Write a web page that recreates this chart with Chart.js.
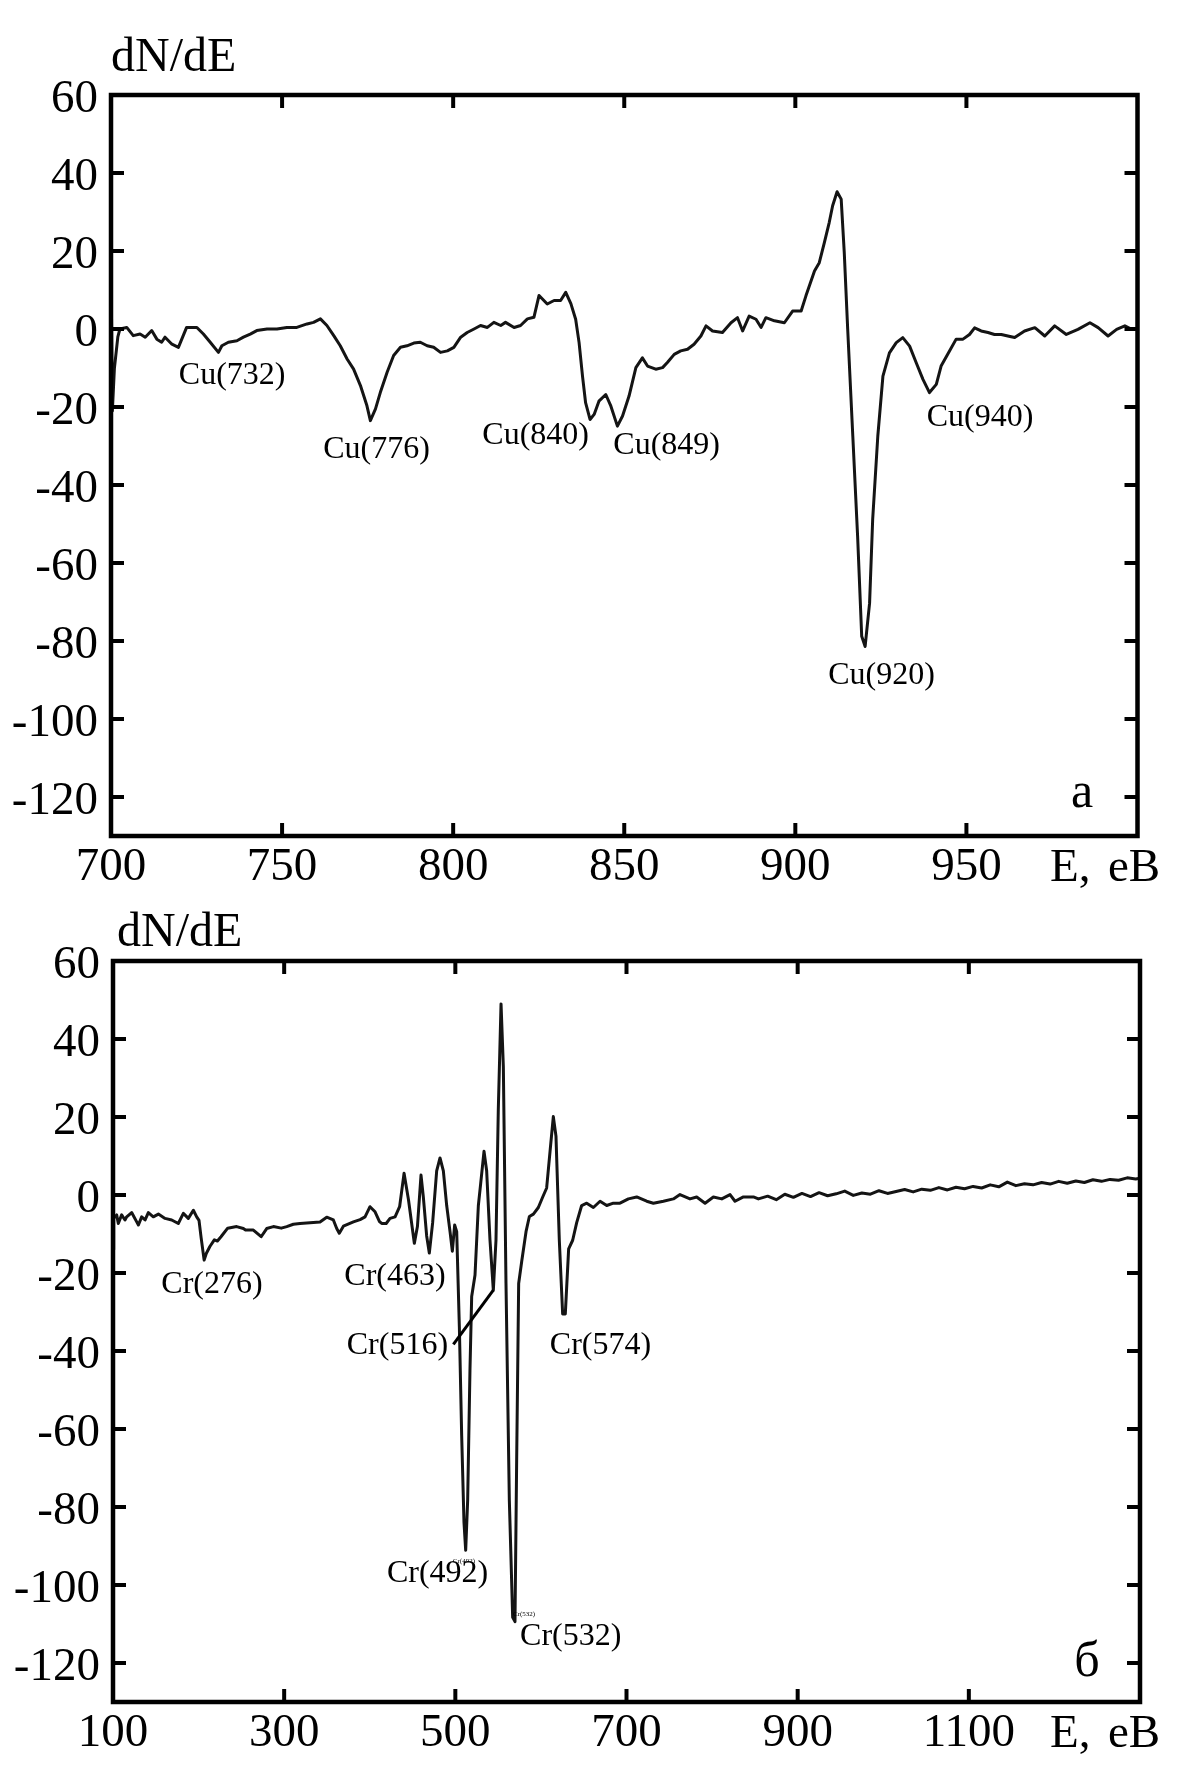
<!DOCTYPE html>
<html><head><meta charset="utf-8">
<script src="https://cdn.jsdelivr.net/npm/chart.js@4.4.1/dist/chart.umd.min.js"></script>
<style>
html,body{margin:0;padding:0;background:#fff;}
#wrap{position:relative;width:1179px;height:1772px;overflow:hidden;background:#fff;}
canvas{position:absolute;left:0;}
</style></head><body>
<div id="wrap">
<canvas id="c1" width="1179" height="900" style="top:0px"></canvas>
<canvas id="c2" width="1179" height="872" style="top:900px"></canvas>
</div>
<script>
// ---------- Panel (a): Cu ----------
const topE = [700,700.4,701,702,702.6,704.6,706.5,708.5,710,711.9,713.4,714.8,715.8,717.8,719.7,722.1,725.1,727,729,731.4,732.4,734.3,736.8,738.7,740.7,742.6,745.6,748.5,751.4,754.3,757.3,759.2,761.2,763.1,765.1,767,769,770.9,772.9,774.8,775.8,777.3,778.7,780.7,782.6,784.6,786.5,788.5,790.4,792.4,794.3,796.3,798.3,800.2,802.2,804.1,806.1,808,810,811.9,813.9,815.3,817.8,819.7,821.7,823.6,825.1,827.5,829.5,831.4,832.9,834.4,835.8,836.8,837.8,838.7,840,841.2,842.6,844.6,846.1,848,849.5,851.4,853.4,855.3,856.8,859.2,861.2,862.6,864.6,866.5,868.5,870.4,872.4,873.9,875.8,878.7,881.2,883.1,884.6,886.5,888.5,890,891.4,893.9,896.8,899.2,901.7,903.1,905.6,907,908.5,909.9,910.9,912.2,913.4,914.3,915.3,916.8,918.2,919.4,920.4,921.7,922.6,924.1,925.6,927.5,929.5,931.4,933.4,935.3,937.3,939.2,941.2,942.6,945.1,947,949,950.9,952.4,954.3,956.3,958.2,960.2,962.1,964.1,967,970,972.9,975.8,979.2,982.6,986.1,988.5,991.4,993.9,996.3,998.3,1000];
const topN = [18,-21,-10,-2,0,0.4,-1.7,-1.3,-2.1,-0.4,-2.6,-3.4,-2.1,-3.9,-4.7,0.4,0.4,-1.3,-3.4,-6,-4.3,-3.4,-3,-2.1,-1.3,-0.4,0,0,0.4,0.4,1.3,1.7,2.6,0.9,-1.7,-4.3,-7.7,-10.3,-14.5,-19.7,-23.5,-20.5,-16.3,-11.1,-6.8,-4.7,-4.3,-3.6,-3.4,-4.3,-4.7,-6,-5.6,-4.7,-2.1,-0.9,0,0.9,0.4,1.7,0.9,1.7,0.4,0.9,2.6,3,8.6,6.4,7.3,7.3,9.4,6.5,2.5,-3.5,-12.1,-18.9,-23.2,-21.9,-18.5,-16.8,-19.8,-24.9,-22.3,-17.2,-9.9,-7.4,-9.5,-10.3,-9.9,-8.6,-6.5,-5.6,-5.2,-3.9,-1.8,0.8,-0.5,-0.9,1.6,2.9,-0.5,3.3,2.5,0.4,2.9,2.1,1.6,4.6,4.6,8.5,14.9,17,22.2,27.3,31.6,35.2,33.3,19.6,0,-27.5,-53.1,-78.8,-81.4,-70.3,-48.9,-27.5,-12.1,-6.1,-3.5,-2.2,-4.4,-8.6,-12.9,-16.3,-14.2,-9.5,-5.6,-2.6,-2.6,-1.4,0.3,-0.5,-0.9,-1.4,-1.4,-1.8,-2.2,-0.5,0.35,-1.8,0.8,-1.4,-0.1,1.6,0.35,-1.8,-0.1,0.8,-0.1,0.2];
const topXTicks = [700,750,800,850,900,950,1000];
const topLabels = [["Cu(732)",735.4,-12.0],["Cu(776)",777.6,-30.8],["Cu(840)",824.1,-27.4],["Cu(849)",862.4,-29.9],["Cu(920)",925.2,-88.8],["Cu(940)",954.0,-22.6]];

// ---------- Panel (б): Cr ----------
const botE = [100,100.8,104.3,106.2,110.1,114,116,121.8,127.7,129.7,133.5,137.5,141.3,147.1,153,160.8,168.6,176.3,182.2,188,193.9,197.8,200.5,203,206.5,209,213.2,218.4,222,226.2,234,244.5,252.3,254.9,264,273.1,279.6,287.4,296.6,303,310.7,318.5,330.2,341.9,349.7,357.5,361.4,364.4,369.2,380.9,388.7,394.5,400.3,406.2,411.4,414,419.2,423.7,429.6,434.9,440.1,445.3,452.1,455.7,459.9,462.6,466.5,469.6,473.5,478.2,482.1,486,489.9,493.8,496.5,499.2,501.6,504.7,507.4,510.1,512.1,514.4,517.1,519.1,523,526.9,529.6,533.5,536.6,540.5,544.4,547.5,550.2,553.4,556.1,559.2,563.1,567,569.7,571.7,574,577.5,582.6,586.5,591.2,597,602.1,606.7,611.4,614.5,617.6,621.5,625.4,628.5,632.4,637.1,641.8,647.6,653.5,661.3,669.1,676.9,684.6,692.4,702.2,711.9,723.6,731.4,743.1,754.8,762.5,774.2,782,791.8,801.5,811.3,821,826.8,836.6,848.3,854.1,865,875,885,895,905,915,925,935,945,955,965,975,985,995,1005,1015,1025,1035,1045,1055,1065,1075,1085,1095,1105,1115,1125,1135,1145,1155,1165,1175,1185,1195,1205,1215,1225,1235,1245,1255,1265,1275,1285,1295,1300];
const botN = [-14,-6,-5.1,-7.3,-5.1,-6.4,-5.6,-4.5,-6.9,-7.7,-5.6,-6.4,-4.5,-5.6,-4.9,-6,-6.4,-7.3,-4.7,-6,-3.9,-5.6,-6.5,-11,-16.7,-15,-13.2,-11.5,-11.8,-10.7,-8.5,-8.1,-8.6,-9,-9,-10.7,-8.6,-8.1,-8.5,-8.1,-7.5,-7.3,-7.1,-6.9,-5.7,-6.4,-8.6,-9.8,-8,-6.9,-6.3,-5.6,-3,-4.3,-6.8,-7.3,-7.3,-6,-5.6,-3,5.6,-1.3,-12.4,-8.1,5.1,-0.5,-10.5,-14.9,-7.1,6.2,9.5,6.2,-2.7,-9.4,-14.4,-7.7,-9.4,-33.8,-61.6,-83.9,-91.1,-78.3,-44.9,-26,-20.5,-2.7,2.9,11.2,6.2,-11.6,-24.4,-11.6,21.8,49,32.9,-22.7,-78.3,-108.3,-109.4,-67.2,-22.7,-17.1,-9.4,-5.5,-4.9,-3.2,-0.5,1.8,12.9,20.1,15.1,-11.6,-30.5,-30.5,-13.8,-11.6,-7.1,-2.7,-2.1,-3.2,-1.6,-2.7,-2.1,-2.1,-1,-0.5,-1.6,-2.1,-1.6,-1,0.1,-1,-0.5,-2.1,-0.5,-1,0.1,-1.6,-0.5,-0.5,-1,-0.3,-1.2,0.2,-0.6,0.4,-0.4,0.6,-0.2,0.3,1,-0.1,0.5,0.2,1.1,0.4,0.9,1.4,0.8,1.5,1.2,1.9,1.3,2,1.6,2.2,1.8,2.6,2.1,3.3,2.4,2.9,2.6,3.2,2.8,3.5,3,3.6,3.2,3.9,3.5,4,3.8,4.4,4.1,4.3];
const botXTicks = [100,300,500,700,900,1100,1300];
const botLabels = [["Cr(276)",215.7,-23.0],["Cr(463)",429.5,-20.9],["Cr(516)",432.3,-38.5],["Cr(574)",669.6,-38.5],["Cr(492)",479.3,-97.2],["Cr(532)",634.8,-113.3]];
const botTinyLabels = [["Cr(492)",510,-94],["Cr(532)",580.3,-107.4]];
const botLeader = [[497.7,-38.3],[544.4,-24.4]];

const yTickValues = [-120,-100,-80,-60,-40,-20,0,20,40,60];

const SERIF = "'Liberation Serif','Times New Roman',serif";

function decorPlugin(o) {
  return {
    id: 'decor',
    afterDraw(chart) {
      const ctx = chart.ctx, a = chart.chartArea, xs = chart.scales.x, ys = chart.scales.y;
      ctx.save();
      ctx.strokeStyle = '#000';
      ctx.lineCap = 'butt';
      ctx.lineWidth = 4.5;
      ctx.strokeRect(a.left, a.top, a.right - a.left, a.bottom - a.top);
      ctx.lineWidth = 4;
      const L = 13;
      const seg = (x1,y1,x2,y2) => { ctx.beginPath(); ctx.moveTo(x1,y1); ctx.lineTo(x2,y2); ctx.stroke(); };
      yTickValues.slice(0, -1).forEach(v => { const p = ys.getPixelForValue(v); seg(a.left, p, a.left + L, p); seg(a.right, p, a.right - L, p); });
      o.xTicks.slice(1, -1).forEach(v => { const p = xs.getPixelForValue(v); seg(p, a.bottom, p, a.bottom - L); seg(p, a.top, p, a.top + L); });
      if (o.leader) {
        ctx.lineWidth = 3;
        seg(xs.getPixelForValue(o.leader[0][0]), ys.getPixelForValue(o.leader[0][1]), xs.getPixelForValue(o.leader[1][0]), ys.getPixelForValue(o.leader[1][1]));
      }
      ctx.fillStyle = '#000';
      ctx.textAlign = 'center';
      ctx.textBaseline = 'middle';
      ctx.font = '32px ' + SERIF;
      o.labels.forEach(([t, ex, ny]) => ctx.fillText(t, xs.getPixelForValue(ex), ys.getPixelForValue(ny)));
      if (o.tiny) {
        ctx.font = '7px ' + SERIF;
        o.tiny.forEach(([t, ex, ny]) => ctx.fillText(t, xs.getPixelForValue(ex), ys.getPixelForValue(ny)));
      }
      ctx.textBaseline = 'alphabetic';
      ctx.textAlign = 'left';
      ctx.font = '48px ' + SERIF;
      ctx.fillText('dN/dE', o.titleX, o.titleY);
      ctx.font = '47px ' + SERIF;
      ctx.fillText('E,', 1050, a.bottom + 45);
      ctx.fillText('eB', 1108, a.bottom + 45);
      ctx.textAlign = 'center';
      ctx.font = '50px ' + SERIF;
      ctx.fillText(o.panel, o.panelX, o.panelY);
      ctx.restore();
    }
  };
}

function makeChart(id, E, N, o) {
  return new Chart(document.getElementById(id), {
    type: 'line',
    data: { datasets: [{ data: E.map((e, i) => ({ x: e, y: N[i] })), borderColor: '#141414', borderWidth: 3, pointRadius: 0, fill: false, tension: 0, borderJoinStyle: 'round' }] },
    options: {
      responsive: false, animation: false, devicePixelRatio: 1,
      layout: { padding: { top: o.padTop, right: o.padRight, left: 0, bottom: 0 } },
      plugins: { legend: { display: false }, tooltip: { enabled: false } },
      scales: {
        x: {
          type: 'linear', min: o.xmin, max: o.xmax,
          grid: { display: false, drawTicks: false }, border: { display: false },
          afterBuildTicks: s => { s.ticks = o.xTicks.map(v => ({ value: v })); },
          afterFit: s => { s.height = o.xHeight; },
          ticks: { autoSkip: false, maxRotation: 0, padding: 3, color: '#000', font: { family: SERIF, size: 47 },
            callback: v => (v === o.xmax ? '' : String(v)) }
        },
        y: {
          type: 'linear', min: -130, max: 60,
          grid: { display: false, drawTicks: false }, border: { display: false },
          afterBuildTicks: s => { s.ticks = yTickValues.map(v => ({ value: v })); },
          afterFit: s => { s.width = o.yWidth; },
          ticks: { autoSkip: false, padding: 13, labelOffset: 5, color: '#000', font: { family: SERIF, size: 47 },
            callback: v => String(v) }
        }
      }
    },
    plugins: [decorPlugin(o)]
  });
}

makeChart('c1', topE, topN, { xmin: 700, xmax: 1000, padTop: 95, padRight: 41.5, xHeight: 64, yWidth: 111,
  xTicks: topXTicks, labels: topLabels, titleX: 111, titleY: 71, panel: 'а', panelX: 1082, panelY: 807 });
makeChart('c2', botE, botN, { xmin: 100, xmax: 1300, padTop: 61, padRight: 39, xHeight: 70, yWidth: 113,
  xTicks: botXTicks, labels: botLabels, tiny: botTinyLabels, leader: botLeader, titleX: 117, titleY: 46, panel: 'б', panelX: 1087, panelY: 776 });
</script>
</body></html>
